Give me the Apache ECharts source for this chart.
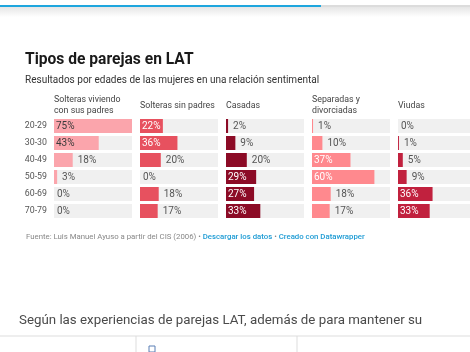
<!DOCTYPE html>
<html>
<head>
<meta charset="utf-8">
<script src="https://cdn.jsdelivr.net/npm/echarts@6/dist/echarts.min.js"></script>
<style>
  html, body { margin: 0; padding: 0; background: #fff; }
  #main { width: 470px; height: 352px; }
</style>
</head>
<body>
<div id="main"></div>
<script>
    // datos
    var ageGroups = ['20-29', '30-30', '40-49', '50-59', '60-69', '70-79'];
    var panelNames = ['Solteras viviendo\ncon sus padres', 'Solteras sin padres', 'Casadas', 'Separadas y\ndivorciadas', 'Viudas'];
    var solterasConPadres = [75, 43, 18, 3, 0, 0];
    var solterasSinPadres = [22, 36, 20, 0, 18, 17];
    var casadas = [2, 9, 20, 29, 27, 33];
    var separadas = [1, 10, 37, 60, 18, 17];
    var viudas = [0, 1, 5, 9, 36, 33];

    var panelValues = [solterasConPadres, solterasSinPadres, casadas, separadas, viudas];
    var panelColors = ['#fba5ac', '#e7515f', '#8c0b26', '#ff898e', '#c1213e'];
    var insideText = ['#3a3a3a', '#fff', '#fff', '#fff', '#fff'];

    var myChart = echarts.init(document.getElementById('main'));

    var grids = [], xAxes = [], yAxes = [], series = [];
    var lefts = [54, 140, 226, 312, 398];

    panelValues.forEach(function(vals, i) {
        grids.push({ left: lefts[i], top: 117.5, width: 78, height: 102 });
        xAxes.push({ type: 'value', gridIndex: i, min: 0, max: 75, show: false });
        yAxes.push({
            type: 'category', gridIndex: i, data: ageGroups, inverse: true,
            axisLine: { show: false }, axisTick: { show: false },
            axisLabel: {
                show: i === 0, color: '#555', fontSize: 8.8, margin: 7,
                fontFamily: 'Roboto'
            }
        });
        series.push({
            type: 'bar', xAxisIndex: i, yAxisIndex: i,
            barWidth: 14,
            showBackground: true,
            backgroundStyle: { color: '#f0f0f0' },
            itemStyle: { color: panelColors[i] },
            data: vals.map(function(v) {
                var inside = v > 21;
                return {
                    value: v,
                    label: {
                        show: true,
                        position: inside ? 'insideLeft' : 'right',
                        distance: inside ? 2 : (v === 0 ? 3 : 5),
                        formatter: '{c}%',
                        fontSize: 10,
                        fontFamily: 'Roboto',
                        color: inside ? insideText[i] : '#555'
                    }
                };
            })
        });
    });

    var graphic = [
        // barra superior
        { type: 'rect', shape: { x: 0, y: 7, width: 470, height: 10 },
          style: { fill: new echarts.graphic.LinearGradient(0, 0, 0, 1, [
              { offset: 0, color: '#e6e6e6' }, { offset: 1, color: '#ffffff' }]) } },
        { type: 'rect', shape: { x: 0, y: 5, width: 470, height: 2 }, style: { fill: '#dcdcdc' } },
        { type: 'rect', shape: { x: 0, y: 5, width: 321, height: 2 }, style: { fill: '#1ea6de' } },
        { type: 'text', left: 25, top: 52,
          style: { text: 'Tipos de parejas en LAT', font: 'bold 15.6px Roboto', fill: '#1a1a1a' } },
        { type: 'text', left: 25, top: 75,
          style: { text: 'Resultados por edades de las mujeres en una relación sentimental', font: '10px Roboto', fill: '#333' } },
        { type: 'text', left: 26, top: 233,
          style: { text: '{g|Fuente: Luis Manuel Ayuso a partir del CIS (2006) • }{b|Descargar los datos}{g| • }{b|Creado con Datawrapper}',
              rich: {
                  g: { fontSize: 7.8, fontFamily: 'Roboto', fill: '#888' },
                  b: { fontSize: 7.8, fontFamily: 'Roboto', fill: '#1d9bd4', fontWeight: 500 }
              } } },
        { type: 'text', left: 19, top: 314,
          style: { text: 'Según las experiencias de parejas LAT, además de para mantener su', font: '13.3px Roboto', fill: '#4a4a4a' } },
        { type: 'rect', shape: { x: 0, y: 335.5, width: 470, height: 1 }, style: { fill: '#dddddd' } },
        { type: 'rect', shape: { x: 135.5, y: 336, width: 1, height: 16 }, style: { fill: '#dddddd' } },
        { type: 'rect', shape: { x: 296.5, y: 336, width: 1, height: 16 }, style: { fill: '#dddddd' } },
        { type: 'rect', shape: { x: 149, y: 346, width: 6, height: 6 }, style: { fill: '#fff', stroke: '#5b7fb5', lineWidth: 1 } }
    ];

    // cabeceras de columna
    panelNames.forEach(function(name, i) {
        var twoLines = name.indexOf('\n') >= 0;
        graphic.push({
            type: 'text', left: lefts[i], top: twoLines ? 94 : 100,
            style: { text: name, font: '8.8px Roboto', fill: '#444', lineHeight: 11 }
        });
    });

    var option = {
        animation: false,
        grid: grids,
        xAxis: xAxes,
        yAxis: yAxes,
        series: series,
        graphic: graphic
    };
    myChart.setOption(option);
</script>
</body>
</html>
